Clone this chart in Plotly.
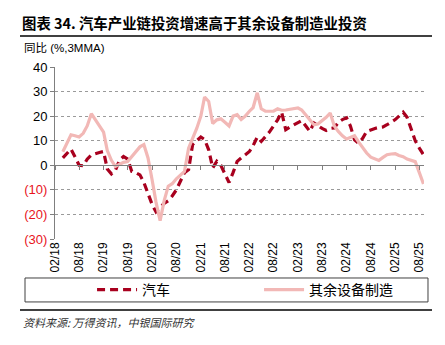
import pandas as pd
import plotly.graph_objects as go

# Monthly dates: 2018-04 .. 2025-09
dates = pd.date_range("2018-04-01", "2025-09-01", freq="MS").strftime("%Y-%m-%d").tolist()

auto = [3, 5, 6.6, 3.5, 0, -0.2, 2.5, 4.2, 4.8, 5.2,
        5.6, -1.5, -3.5, -2, 2, 3.6, 2.5, -2.5, -3, -3.9,
        -7, -12, -16, -18.9, -17, -15.5, -14.4, -12.5, -10, -6.5,
        -3, -1.8, 8.4, 10, 11.5, 10.5, 6.3, -1.1, 1.6, 0,
        -3.5, -7, -3, 1.6, 3, 4.3, 5.6, 8, 11.5, 9.7,
        11.5, 13.5, 16, 18.5, 21.6, 14.5, 15.5, 16.5, 17.5, 18.2,
        16, 13.8, 17.2, 16, 15, 14.2, 15, 15.2, 17.5, 18.6,
        19.3, 16, 10.4, 9, 11, 13.8, 14.5, 15, 15.4, 15.6,
        16.5, 17.5, 18.6, 20, 21.6, 19.5, 14.5, 10, 7, 4.3]

other = [5.5, 9, 12.4, 12, 11.5, 13, 16, 21, 18.5, 16,
         13.5, 6, 2, -0.5, 0.5, 1.2, 1.5, 3.6, 5.5, 7.5,
         8.4, 3, -6, -15, -22.5, -14.5, -8.5, -7.5, -5.5, -3.8,
         -2.5, 7, 11, 15, 20, 27.8, 26, 17, 18.5, 18.9,
         17.5, 16, 20, 20.6, 18.6, 20, 22, 23.5, 29.5, 23,
         22, 22, 22, 23, 22.4, 22.5, 22.7, 23, 23.3, 22.5,
         20.5, 18.6, 16.5, 16.8, 18, 19.5, 21.3, 16, 13.8, 12,
         10.7, 11.5, 12, 9.5, 7, 5, 3.3, 2.5, 2, 3.2,
         4.3, 4.6, 4.7, 4, 3.5, 2.5, 2, 1.5, -3, -7.6]

series_names = ["汽车", "其余设备制造"]
ytick_vals = [40, 30, 20, 10, 0, -10, -20, -30]
ytick_text = ["40", "30", "20", "10", "0", "(10)", "(20)", "(30)"]

FONT = "Liberation Sans, Arial, Noto Sans CJK SC, sans-serif"
CJK = "Noto Sans CJK SC, Liberation Sans, sans-serif"
DARK = "#A8001E"
PINK = "#F2B8B6"

fig = go.Figure()
fig.add_trace(go.Scatter(x=dates, y=auto, name=series_names[0], mode="lines",
                         line=dict(color=DARK, width=3.2, dash="8px,5px")))
fig.add_trace(go.Scatter(x=dates, y=other, name=series_names[1], mode="lines",
                         line=dict(color=PINK, width=3.2)))
# invisible trace to host the zero-line axis
fig.add_trace(go.Scatter(x=dates, y=auto, xaxis="x2", mode="lines", showlegend=False,
                         hoverinfo="skip", line=dict(color="rgba(0,0,0,0)", width=0)))

ticktext = []
for v, t in zip(ytick_vals, ytick_text):
    if v < 0:
        ticktext.append('<span style="color:#E8141C">' + t + '</span>')
    else:
        ticktext.append(t)

xrange = ["2018-02-01", "2025-09-05"]

fig.update_layout(
    width=445, height=345,
    margin=dict(l=55, r=21, t=67, b=106),
    paper_bgcolor="white", plot_bgcolor="white",
    font=dict(family=FONT, size=13, color="#000"),
    xaxis=dict(type="date", range=xrange, tick0="2018-02-01", dtick="M6",
               tickformat="%m/%y", tickangle=-90, showgrid=False, showline=False,
               ticks="", zeroline=False, tickfont=dict(size=12, family=FONT)),
    xaxis2=dict(type="date", range=xrange, tick0="2018-02-01", dtick="M6",
                overlaying="x", anchor="free", position=30/70, side="bottom",
                showline=True, linecolor="#7f7f7f", linewidth=1,
                ticks="outside", ticklen=4, tickcolor="#7f7f7f",
                showticklabels=False, showgrid=False, zeroline=False),
    yaxis=dict(range=[-30, 40], tickvals=ytick_vals, ticktext=ticktext,
               showgrid=True, gridcolor="#9a9a9a", griddash="dot", gridwidth=1,
               zeroline=False, showline=True, linecolor="#7f7f7f", linewidth=1,
               ticks="outside", ticklen=4, tickcolor="#7f7f7f",
               tickfont=dict(size=13, family=FONT)),
    showlegend=True,
    legend=dict(orientation="h", x=0.553, xanchor="center", y=-0.2965, yanchor="middle",
                bgcolor="rgba(0,0,0,0)", font=dict(family=CJK, size=14),
                entrywidth=112, entrywidthmode="pixels", itemwidth=40),
)

# legend box
fig.add_shape(type="rect", xref="paper", yref="paper",
              x0=-0.0813, x1=1.0108, y0=-0.366, y1=-0.2267,
              line=dict(color="#404040", width=1))
# rule lines
fig.add_shape(type="line", xref="paper", yref="paper", x0=-0.0949, x1=1.0217,
              y0=1.180, y1=1.180, line=dict(color="#000", width=1.5))
fig.add_shape(type="line", xref="paper", yref="paper", x0=-0.0949, x1=1.0217,
              y0=-0.4128, y1=-0.4128, line=dict(color="#000", width=1.5))

fig.add_annotation(text="<b>图表 34. 汽车产业链投资增速高于其余设备制造业投资</b>",
                   xref="paper", yref="paper", x=-0.0949, y=1.2616,
                   xanchor="left", yanchor="middle", showarrow=False,
                   font=dict(family=CJK, size=14.4, color="#000"))
fig.add_annotation(text="同比 (%,3MMA)", xref="paper", yref="paper",
                   x=-0.0894, y=1.1105, xanchor="left", yanchor="middle",
                   showarrow=False, font=dict(family=FONT, size=11.5, color="#000"))
fig.add_annotation(text="<i>资料来源: 万得资讯，中银国际研究</i>", xref="paper", yref="paper",
                   x=-0.092, y=-0.4826, xanchor="left", yanchor="middle",
                   showarrow=False, font=dict(family=CJK, size=11, color="#333"))

fig.write_html("out.html")
